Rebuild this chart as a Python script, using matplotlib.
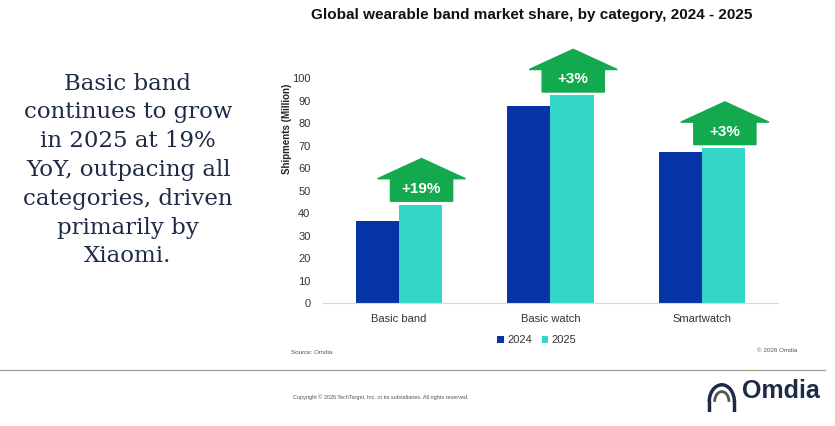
import matplotlib
matplotlib.use("Agg")
import matplotlib.pyplot as plt
from matplotlib.patches import Polygon, Arc
from matplotlib.lines import Line2D
import numpy as np

plt.rcParams["font.family"] = ["Liberation Sans", "DejaVu Sans"]

# data
categories = ["Basic band", "Basic watch", "Smartwatch"]
years = ["2024", "2025"]
ship_2024 = [36.5, 87.8, 67.3]
ship_2025 = [43.8, 92.4, 69.0]
growth = ["+19%", "+3%", "+3%"]
yticks = [0, 10, 20, 30, 40, 50, 60, 70, 80, 90, 100]

c2024 = "#0633A6"
c2025 = "#34D6C8"
green = "#12A94F"
navy = "#1D2B47"

fig = plt.figure(figsize=(8.35, 4.26), dpi=100)
ax = fig.add_axes([0.3868, 0.2887, 0.5449, 0.5275])

x = np.arange(len(categories))
w = 0.285
ax.bar(x - w / 2, ship_2024, w, color=c2024, label=years[0])
ax.bar(x + w / 2, ship_2025, w, color=c2025, label=years[1])

# growth arrows above the 2025 bars
for xi, v, g in zip(x, ship_2025, growth):
    cx = xi + 0.15
    b = v + 1.5
    sw, hw = 0.205, 0.29
    pts = [(cx - sw, b), (cx + sw, b), (cx + sw, b + 10), (cx + hw, b + 10),
           (cx, b + 19), (cx - hw, b + 10), (cx - sw, b + 10)]
    ax.add_patch(Polygon(pts, closed=True, color=green, clip_on=False, zorder=3))
    ax.text(cx, b + 5.6, g, color="white", fontsize=11, fontweight="bold",
            ha="center", va="center", zorder=4, clip_on=False)

ax.set_xlim(-0.5, 2.5)
ax.set_ylim(0, 100)
ax.set_yticks(yticks)
ax.set_xticks(x)
ax.set_xticklabels(categories)
ax.tick_params(axis="both", length=0, labelsize=8, colors="#333333")
ax.tick_params(axis="y", pad=9)
ax.tick_params(axis="x", pad=8)
for s in ["top", "right", "left"]:
    ax.spines[s].set_visible(False)
ax.spines["bottom"].set_color("#d9d9d9")

fig.text(287 / 835, 1 - 129 / 426, "Shipments (Million)", rotation=90,
         fontsize=7, fontweight="bold", ha="center", va="center", color="#222222")

ax.legend(loc="upper center", bbox_to_anchor=(0.47, -0.1), ncol=2, frameon=False,
          fontsize=8, handlelength=0.6, handleheight=0.6, handletextpad=0.3,
          columnspacing=0.9, labelcolor="#333333")

fig.text(532 / 835, 1 - 15 / 426, "Global wearable band market share, by category, 2024 - 2025",
         fontsize=11, fontweight="bold", ha="center", va="center", color="#111111")

fig.text(128 / 835, 1 - 170 / 426,
         "Basic band\ncontinues to grow\nin 2025 at 19%\nYoY, outpacing all\ncategories, driven\nprimarily by\nXiaomi.",
         family="DejaVu Serif", fontsize=16.5, linespacing=1.4, ha="center", va="center",
         color=navy)

fig.text(291 / 835, 1 - 353 / 426, "Source: Omdia", fontsize=4.5, color="#555555", va="center")
fig.text(797 / 835, 1 - 350 / 426, "\u00a9 2026 Omdia", fontsize=4.5, color="#555555",
         va="center", ha="right")

fig.add_artist(Line2D([0, 825 / 835], [1 - 370 / 426] * 2, color="#a0a0a0", lw=1))

fig.text(293 / 835, 1 - 397 / 426,
         "Copyright \u00a9 2026 TechTarget, Inc. or its subsidiaries. All rights reserved.",
         fontsize=4, color="#555555", va="center")

# logo
fig.text(742 / 835, 1 - 391 / 426, "Omdia", fontsize=18, fontweight="bold",
         color=navy, va="center", ha="left")
lax = fig.add_axes([702 / 835, 1 - 412 / 426, 36 / 835, 34 / 426])
lax.set_xlim(0, 1)
lax.set_ylim(0, 1)
lax.axis("off")
lax.add_patch(Arc((0.55, 0.3), 0.7, 1.0, theta1=0, theta2=180, color=navy, lw=2.5))
lax.add_patch(Arc((0.55, 0.3), 0.4, 0.6, theta1=0, theta2=180, color="#555555", lw=2))
lax.plot([0.2, 0.2], [0.0, 0.3], color=navy, lw=2.5)
lax.plot([0.9, 0.9], [0.0, 0.3], color=navy, lw=2.5)

fig.savefig("out.png", dpi=100, facecolor="white")
